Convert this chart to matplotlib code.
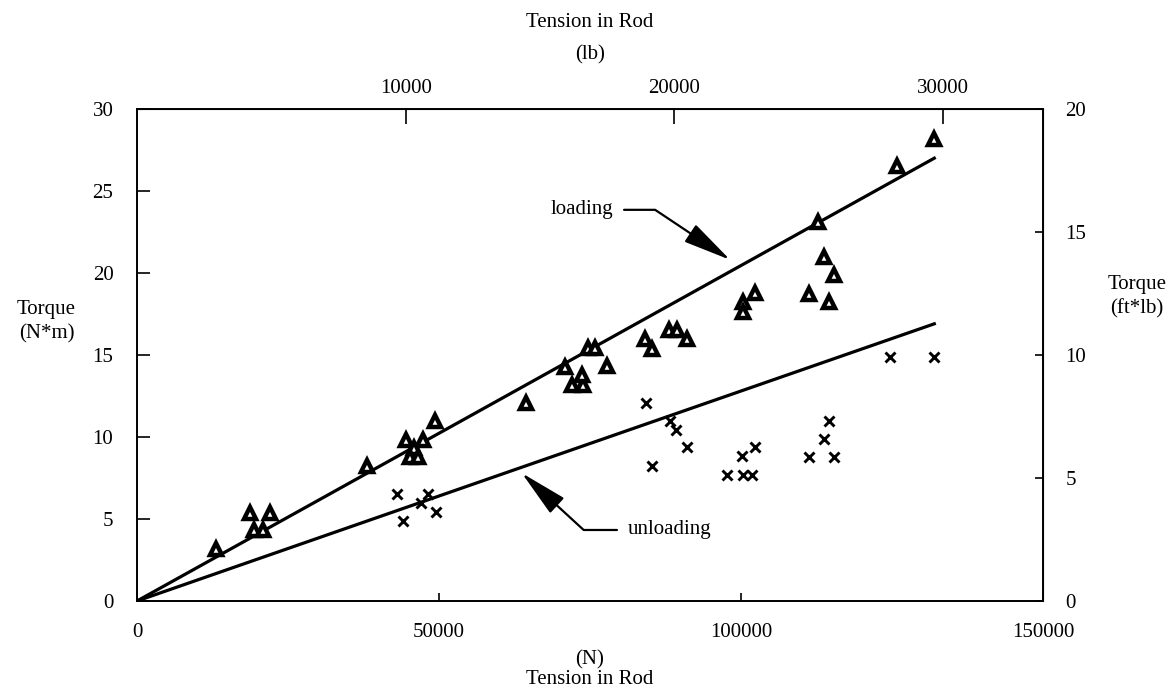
import matplotlib
matplotlib.use('Agg')
from matplotlib import pyplot as plt

plt.rcParams['font.family'] = ['Liberation Serif', 'DejaVu Serif']
plt.rcParams['font.size'] = 15

# loading runs (triangles): tension in N, torque in N*m
load_tension = [13100, 18700, 22000, 19400, 20800, 38000, 44500, 47400, 45900,
                45200, 46600, 49300, 64400, 70900, 72000, 73800, 73600, 74700,
                75800, 77800, 84100, 85200, 88100, 89400, 91000, 100300, 100300,
                102300, 111200, 113700, 115400, 114500, 112800, 125800, 132000]
load_torque = [3.2, 5.35, 5.35, 4.3, 4.3, 8.25, 9.8, 9.8, 9.3,
               8.8, 8.8, 11.0, 12.1, 14.25, 13.2, 13.2, 13.8, 15.4,
               15.4, 14.3, 15.95, 15.35, 16.5, 16.5, 15.95, 18.25, 17.65,
               18.75, 18.7, 21.0, 19.9, 18.25, 23.1, 26.5, 28.15]

# unloading runs (crosses)
unload_tension = [43100, 44100, 47000, 48100, 49500, 84200, 85200, 88200, 89200,
                  91000, 97600, 100100, 100300, 101800, 102300, 111200, 113800,
                  114500, 115400, 124700, 132000]
unload_torque = [6.55, 4.9, 5.95, 6.55, 5.4, 12.1, 8.25, 11.0, 10.4,
                 9.4, 7.7, 8.85, 7.7, 7.7, 9.4, 8.8, 9.9,
                 11.0, 8.8, 14.9, 14.9]

# fitted lines
fit_tension = [0, 132000]
load_fit = [0, 27.0]
unload_fit = [0, 16.9]

N_PER_LB = 4.448
NM_PER_FTLB = 1.5

fig = plt.figure(figsize=(11.68, 6.94), dpi=100)
ax = fig.add_axes([0.1173, 0.134, 0.7757, 0.709])

ax.plot(fit_tension, load_fit, color='black', lw=2.3)
ax.plot(fit_tension, unload_fit, color='black', lw=2.3)
ax.plot(load_tension, load_torque, linestyle='none', marker='^', markersize=8,
        markerfacecolor='white', markeredgecolor='black', markeredgewidth=3.2)
ax.plot(unload_tension, unload_torque, linestyle='none', marker='x', markersize=7,
        color='black', markeredgewidth=2.1)

ax.set_xlim(0, 150000)
ax.set_ylim(0, 30)
ax.set_xticks([0, 50000, 100000, 150000])
ax.set_yticks([0, 5, 10, 15, 20, 25, 30])
ax.tick_params(axis='x', direction='in', length=6, width=1.2, pad=16)
ax.tick_params(axis='y', direction='in', length=9, width=1.2, pad=17)
for s in ax.spines.values():
    s.set_linewidth(1.4)

ax.set_xlabel('(N)\nTension in Rod', linespacing=1.0, labelpad=6)
ax.set_ylabel('Torque\n(N*m)', rotation=0, linespacing=1.35, ha='center', va='center')
ax.yaxis.set_label_coords(-0.1, 0.567)

top = ax.secondary_xaxis('top', functions=(lambda n: n / N_PER_LB, lambda lb: lb * N_PER_LB))
top.set_xticks([10000, 20000, 30000])
top.tick_params(direction='in', length=11, width=1.2, pad=8)
top.set_xlabel('Tension in Rod\n(lb)', linespacing=1.9, labelpad=14)

right = ax.secondary_yaxis('right', functions=(lambda t: t / NM_PER_FTLB, lambda t: t * NM_PER_FTLB))
right.set_yticks([0, 5, 10, 15, 20])
right.tick_params(direction='in', length=6, width=1.2, pad=16)
ax.text(1.104, 0.618, 'Torque\n(ft*lb)', transform=ax.transAxes, ha='center', va='center',
        linespacing=1.35)

arrow = dict(arrowstyle='-|>,head_length=1.5,head_width=0.32', color='black', lw=1.6,
             mutation_scale=20, shrinkA=6, shrinkB=0)
ax.annotate('loading', xy=(98200, 20.8), xytext=(78800, 23.85), ha='right', va='center',
            arrowprops=dict(arrow, connectionstyle='angle,angleA=0,angleB=-33.7,rad=0'))
ax.annotate('unloading', xy=(63700, 7.8), xytext=(81300, 4.33), ha='left', va='center',
            arrowprops=dict(arrow, connectionstyle='angle,angleA=180,angleB=137.4,rad=0'))

fig.savefig('out.png', dpi=100)
